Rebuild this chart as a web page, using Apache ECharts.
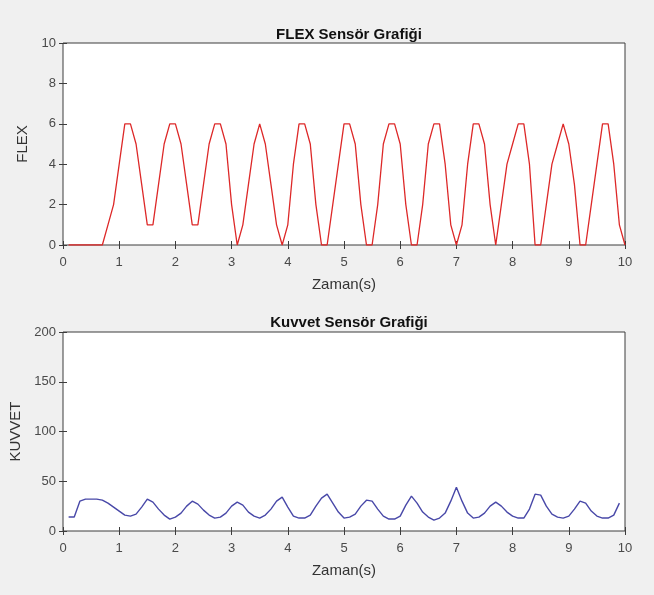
<!DOCTYPE html>
<html>
<head>
<meta charset="utf-8">
<script src="https://cdn.jsdelivr.net/npm/echarts@6/dist/echarts.min.js"></script>
<style>
    html, body { margin: 0; padding: 0; background: #f0f0f0; }
    #chart { width: 654px; height: 595px; }
</style>
</head>
<body>
<div id="chart"></div>
<script>
// zaman (s)
var times = [
    0.1, 0.2, 0.3, 0.4, 0.5, 0.6, 0.7, 0.8, 0.9, 1.0,
    1.1, 1.2, 1.3, 1.4, 1.5, 1.6, 1.7, 1.8, 1.9, 2.0,
    2.1, 2.2, 2.3, 2.4, 2.5, 2.6, 2.7, 2.8, 2.9, 3.0,
    3.1, 3.2, 3.3, 3.4, 3.5, 3.6, 3.7, 3.8, 3.9, 4.0,
    4.1, 4.2, 4.3, 4.4, 4.5, 4.6, 4.7, 4.8, 4.9, 5.0,
    5.1, 5.2, 5.3, 5.4, 5.5, 5.6, 5.7, 5.8, 5.9, 6.0,
    6.1, 6.2, 6.3, 6.4, 6.5, 6.6, 6.7, 6.8, 6.9, 7.0,
    7.1, 7.2, 7.3, 7.4, 7.5, 7.6, 7.7, 7.8, 7.9, 8.0,
    8.1, 8.2, 8.3, 8.4, 8.5, 8.6, 8.7, 8.8, 8.9, 9.0,
    9.1, 9.2, 9.3, 9.4, 9.5, 9.6, 9.7, 9.8, 9.9, 10.0
];

// flex sensör
var flexValues = [
    0, 0, 0, 0, 0, 0, 0, 1, 2, 4,
    6, 6, 5, 3, 1, 1, 3, 5, 6, 6,
    5, 3, 1, 1, 3, 5, 6, 6, 5, 2,
    0, 1, 3, 5, 6, 5, 3, 1, 0, 1,
    4, 6, 6, 5, 2, 0, 0, 2, 4, 6,
    6, 5, 2, 0, 0, 2, 5, 6, 6, 5,
    2, 0, 0, 2, 5, 6, 6, 4, 1, 0,
    1, 4, 6, 6, 5, 2, 0, 2, 4, 5,
    6, 6, 4, 0, 0, 2, 4, 5, 6, 5,
    3, 0, 0, 2, 4, 6, 6, 4, 1, 0
];

// kuvvet sensör (son örnek 9.9 s)
var kuvvetValues = [
    14, 14, 30, 32, 32, 32, 31, 28, 24, 20,
    16, 15, 17, 24, 32, 29, 22, 16, 12, 14,
    18, 25, 30, 27, 21, 16, 13, 14, 18, 25,
    29, 26, 19, 15, 13, 16, 22, 30, 34, 24,
    15, 13, 13, 16, 25, 33, 37, 28, 19, 13,
    14, 17, 25, 31, 30, 22, 15, 12, 12, 15,
    26, 35, 28, 19, 14, 11, 13, 18, 30, 44,
    30, 18, 13, 14, 18, 25, 29, 25, 19, 15,
    13, 13, 22, 37, 36, 25, 17, 14, 13, 15,
    22, 30, 28, 20, 15, 13, 13, 16, 28
];

var xTicks = [0, 10, 1];
var flexTicks = [0, 10, 2];
var kuvvetTicks = [0, 200, 50];

function pairs (xs, ys) {
    var out = [];
    for (var i = 0; i < ys.length; i++) {
        out.push([xs[i], ys[i]]);
    }
    return out;
}

var font = 'Liberation Sans, Arial, sans-serif';
var axisColor = '#3c3c3c';
var labelColor = '#4a4a4a';

function xAx (grid, pos, labels) {
    return {
        type: 'value', gridIndex: grid, position: pos,
        min: xTicks[0], max: xTicks[1], interval: xTicks[2],
        name: labels ? 'Zaman(s)' : '', nameLocation: 'middle', nameGap: 32,
        nameTextStyle: { fontFamily: font, fontSize: 15, color: '#333' },
        axisLine: { show: false },
        axisTick: { show: true, inside: true, length: 4, lineStyle: { color: axisColor } },
        axisLabel: { show: labels, margin: 11, fontFamily: font, fontSize: 13, color: labelColor },
        splitLine: { show: false }
    };
}

function yAx (grid, pos, ticks, name, gap) {
    return {
        type: 'value', gridIndex: grid, position: pos,
        min: ticks[0], max: ticks[1], interval: ticks[2],
        name: name, nameLocation: 'middle', nameGap: gap,
        nameTextStyle: { fontFamily: font, fontSize: 15, color: '#333' },
        axisLine: { show: false },
        axisTick: { show: true, inside: true, length: 4, lineStyle: { color: axisColor } },
        axisLabel: { show: name !== '', margin: 7, fontFamily: font, fontSize: 13, color: labelColor },
        splitLine: { show: false }
    };
}

var option = {
    backgroundColor: '#f0f0f0',
    animation: false,
    title: [
        {
            text: 'FLEX Sensör Grafiği', left: 344, top: 22, textAlign: 'center',
            textStyle: { fontFamily: font, fontSize: 15, fontWeight: 'bold', color: '#111' }
        },
        {
            text: 'Kuvvet Sensör Grafiği', left: 344, top: 310, textAlign: 'center',
            textStyle: { fontFamily: font, fontSize: 15, fontWeight: 'bold', color: '#111' }
        }
    ],
    grid: [
        { left: 63, top: 43, width: 562, height: 202, show: true, backgroundColor: '#fff', borderColor: axisColor, borderWidth: 1 },
        { left: 63, top: 332, width: 562, height: 199, show: true, backgroundColor: '#fff', borderColor: axisColor, borderWidth: 1 }
    ],
    xAxis: [
        xAx(0, 'bottom', true),
        xAx(0, 'top', false),
        xAx(1, 'bottom', true),
        xAx(1, 'top', false)
    ],
    yAxis: [
        yAx(0, 'left', flexTicks, 'FLEX', 21),
        yAx(0, 'right', flexTicks, '', 0),
        yAx(1, 'left', kuvvetTicks, 'KUVVET', 27),
        yAx(1, 'right', kuvvetTicks, '', 0)
    ],
    series: [
        {
            type: 'line', xAxisIndex: 0, yAxisIndex: 0,
            data: pairs(times, flexValues),
            showSymbol: false,
            lineStyle: { color: '#dd2828', width: 1.3 }
        },
        {
            type: 'line', xAxisIndex: 2, yAxisIndex: 2,
            data: pairs(times, kuvvetValues),
            showSymbol: false,
            lineStyle: { color: '#4848a8', width: 1.4 }
        }
    ]
};

var myChart = echarts.init(document.getElementById('chart'));
myChart.setOption(option);
</script>
</body>
</html>
